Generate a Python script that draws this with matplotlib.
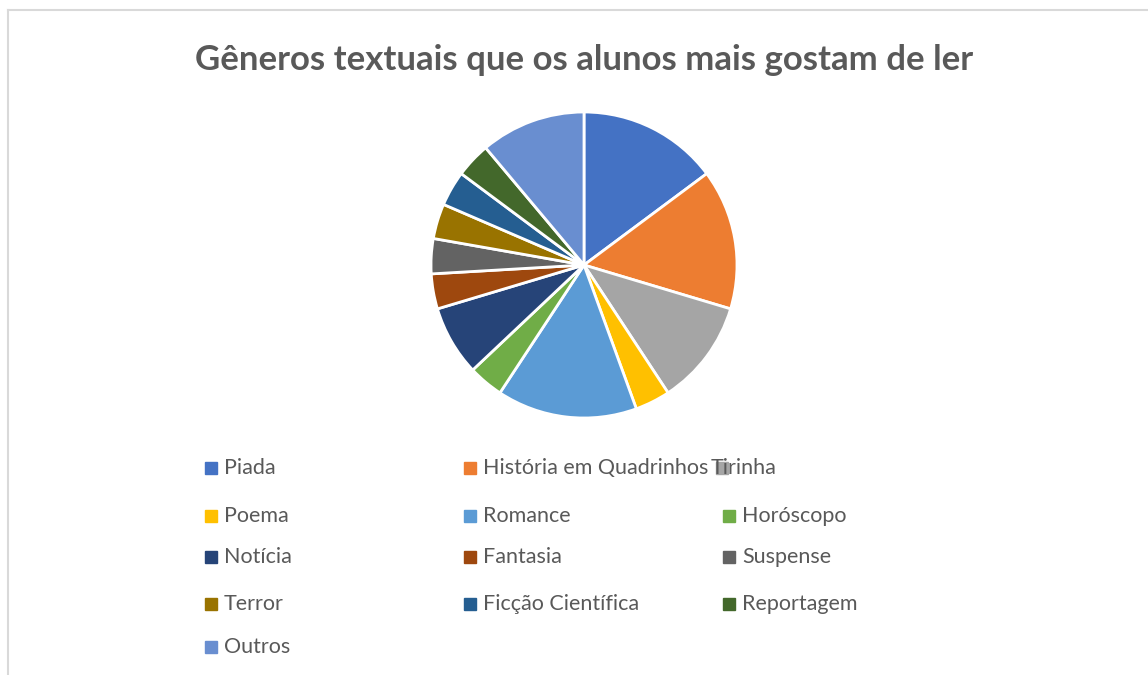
import matplotlib
matplotlib.use('Agg')
import matplotlib.pyplot as plt
from matplotlib.patches import Rectangle
from matplotlib.lines import Line2D

#dados do grafico
generos = ['Piada', 'História em Quadrinhos', 'Tirinha', 'Poema', 'Romance', 'Horóscopo',
           'Notícia', 'Fantasia', 'Suspense', 'Terror', 'Ficção Científica', 'Reportagem', 'Outros']
alunos = [4, 4, 3, 1, 4, 1, 2, 1, 1, 1, 1, 1, 3]
cores = ['#4472C4', '#ED7D31', '#A5A5A5', '#FFC000', '#5B9BD5', '#70AD47',
         '#264478', '#9E480E', '#636363', '#997300', '#255E91', '#43682B', '#698ED0']

W, H = 1148, 675
fig = plt.figure(figsize=(W / 100, H / 100), dpi=100)
plt.rcParams['font.family'] = ['Lato', 'DejaVu Sans']
cinza = '#595959'

#moldura da area do grafico
fig.add_artist(Line2D([8 / W, 8 / W], [0, 1 - 10 / H], transform=fig.transFigure, color='#d9d9d9', lw=1.5))
fig.add_artist(Line2D([8 / W, 1], [1 - 10 / H, 1 - 10 / H], transform=fig.transFigure, color='#d9d9d9', lw=1.5))

#titulo
fig.text(584 / W, 1 - 60 / H, 'Gêneros textuais que os alunos mais gostam de ler',
         ha='center', va='center', fontsize=25, fontweight='bold', color=cinza)

#pizza
cx, cy, r = 584, 265, 153
ax = fig.add_axes([(cx - r) / W, (H - cy - r) / H, 2 * r / W, 2 * r / H])
ax.pie(alunos, colors=cores, startangle=90, counterclock=False,
       wedgeprops=dict(edgecolor='white', linewidth=2))
ax.set_xlim(-1, 1)
ax.set_ylim(-1, 1)
ax.axis('off')

#legenda feita a mao (3 colunas)
col_x = [205, 464, 723]
row_y = [468, 516, 557, 604, 647]
for i, (nome, cor) in enumerate(zip(generos, cores)):
    lin, col = divmod(i, 3)
    x = col_x[col]
    y = row_y[lin]
    tx = x + 19
    zq = 5
    if nome == 'Tirinha':
        tx = 711  # texto sobreposto ao marcador, como no original
        x = 716
        zq = 1
    fig.text(tx / W, 1 - y / H, nome, ha='left', va='center', fontsize=15.5, color=cinza, zorder=3)
    sq = Rectangle((x / W, 1 - (y + 6) / H), 12 / W, 12 / H,
                   transform=fig.transFigure, color=cor, zorder=zq)
    fig.add_artist(sq)

plt.savefig('out.png', dpi=100)
